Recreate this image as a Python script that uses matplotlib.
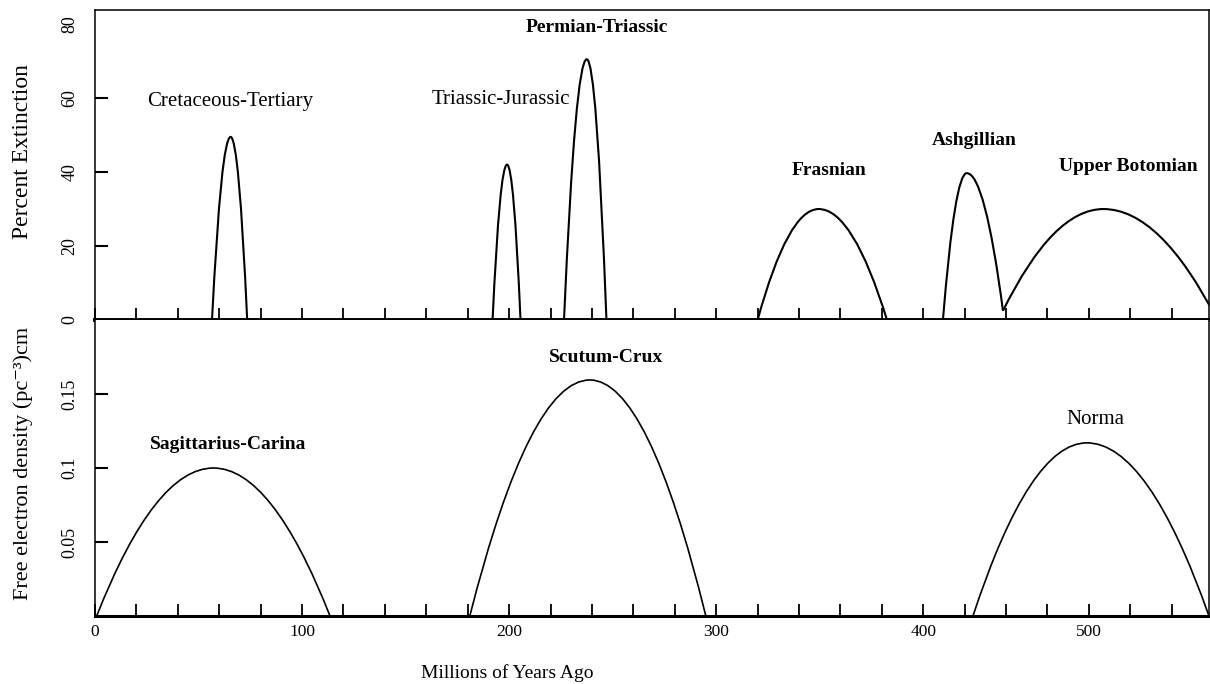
import numpy as np
import matplotlib
matplotlib.use('Agg')
import matplotlib.pyplot as plt
from matplotlib.path import Path
from matplotlib.patches import PathPatch

plt.rcParams['font.family'] = ['Liberation Serif', 'DejaVu Serif']

# top panel: extinction events (start, peak, end of each bump)
ext_names = ['Cretaceous-Tertiary', 'Triassic-Jurassic', 'Permian-Triassic',
             'Frasnian', 'Ashgillian', 'Upper Botomian']
ext_start_x = [56.5, 192.0, 226.5, 320.0, 409.5, 438.5]
ext_start_y = [0, 0, 0, 0, 0, 2.5]
ext_peak_x = [65.5, 199.0, 237.5, 349.5, 421.0, 487.0]
ext_peak_y = [49.5, 42.0, 70.5, 30.0, 39.7, 30.0]
ext_end_x = [73.5, 205.5, 247.0, 382.5, 438.5, 542.0]
ext_end_y = [0, 0, 0, 0, 2.5, 0]
ext_label_x = [65.2, 196.0, 242.3, 354.5, 424.6, 498.8]
ext_label_y = [59.2, 59.5, 79.0, 40.5, 48.4, 41.4]
ext_label_bold = [False, False, True, True, True, True]

# bottom panel: spiral arms
arm_names = ['Sagittarius-Carina', 'Scutum-Crux', 'Norma']
arm_start_x = [0.8, 181.0, 424.0]
arm_peak_x = [57.2, 239.0, 479.0]
arm_peak_y = [0.100, 0.1595, 0.117]
arm_end_x = [113.5, 295.0, 538.0]
arm_label_x = [64.2, 246.8, 483.0]
arm_label_y = [0.1162, 0.1747, 0.1331]
arm_label_bold = [True, True, False]

x_tick_pos = [0, 100, 200, 300, 400, 480]
x_tick_text = ['0', '100', '200', '300', '400', '500']
top_yticks = [0, 20, 40, 60, 80]
bot_yticks = [0.05, 0.1, 0.15]
bot_ytick_text = ['0.05', '0.1', '0.15']


def bump(ax, x0, y0, xp, yp, x1, y1, lw):
    # two half-parabolas meeting at the peak
    verts = [(x0, y0), ((x0 + xp) / 2, yp), (xp, yp), ((xp + x1) / 2, yp), (x1, y1)]
    codes = [Path.MOVETO, Path.CURVE3, Path.CURVE3, Path.CURVE3, Path.CURVE3]
    ax.add_patch(PathPatch(Path(verts, codes), fill=False, lw=lw, edgecolor='black'))


W, H = 1210, 684
fig = plt.figure(figsize=(W / 100, H / 100), dpi=100)
top = fig.add_axes([95 / W, 1 - 320 / H, 1114 / W, 310 / H])
bot = fig.add_axes([95 / W, 1 - 616 / H, 1114 / W, 296 / H])

for i in range(len(ext_names)):
    bump(top, ext_start_x[i], ext_start_y[i], ext_peak_x[i], ext_peak_y[i],
         ext_end_x[i], ext_end_y[i], 1.5)
    top.text(ext_label_x[i], ext_label_y[i], ext_names[i], ha='center', va='center',
             fontsize=14 if ext_label_bold[i] else 15,
             fontweight='bold' if ext_label_bold[i] else 'normal')

for i in range(len(arm_names)):
    bump(bot, arm_start_x[i], 0, arm_peak_x[i], arm_peak_y[i], arm_end_x[i], 0, 1.2)
    bot.text(arm_label_x[i], arm_label_y[i], arm_names[i], ha='center', va='center',
             fontsize=14 if arm_label_bold[i] else 15,
             fontweight='bold' if arm_label_bold[i] else 'normal')

for ax in (top, bot):
    ax.set_xlim(0, 538)
    ax.set_xticks(np.arange(0, 540, 20), minor=True)
    ax.set_xticks(x_tick_pos, x_tick_text)
    ax.tick_params(axis='x', which='both', direction='in', length=8.5, width=1.3,
                   top=False, labelsize=12.5, pad=6)
    ax.tick_params(axis='y', which='both', direction='in', length=9.5, width=1.5,
                   right=False, labelsize=13, pad=12)
    for s in ('left', 'right', 'top'):
        ax.spines[s].set_linewidth(1.1)

top.tick_params(axis='x', labelbottom=False)
top.spines['bottom'].set_linewidth(2.8)
bot.spines['top'].set_visible(False)
bot.spines['bottom'].set_linewidth(2.2)

top.set_ylim(0, 83.8)
top.set_yticks(top_yticks)
for t in (top.yaxis.get_major_ticks()[0], top.yaxis.get_major_ticks()[-1]):
    t.tick1line.set_visible(False)

bot.set_ylim(0, 0.2)
bot.set_yticks(bot_yticks, bot_ytick_text)

for ax in (top, bot):
    plt.setp(ax.get_yticklabels(), rotation=90, va='center')

fig.text(23 / W, 1 - 152 / H, 'Percent Extinction', rotation=90,
         ha='center', va='center', fontsize=17)
fig.text(23 / W, 1 - 463 / H, 'Free electron density (pc\u207b\u00b3)cm', rotation=90,
         ha='center', va='center', fontsize=16)
fig.text(507 / W, 1 - 678 / H, 'Millions of Years Ago', ha='center', va='baseline',
         fontsize=14)

fig.savefig('out.png', dpi=100)
